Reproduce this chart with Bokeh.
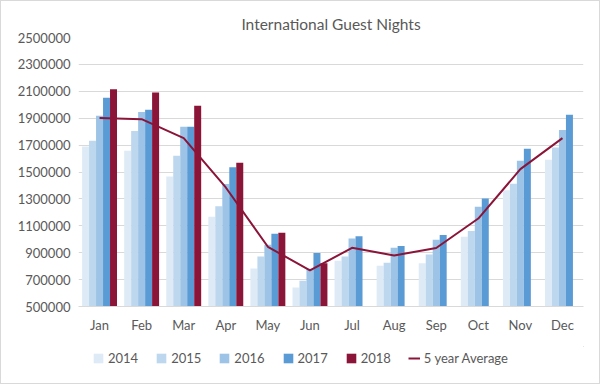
from bokeh.plotting import figure
from bokeh.layouts import column
from bokeh.models import FactorRange, Range1d, FixedTicker, Legend, LegendItem, BasicTickFormatter
from bokeh.transform import dodge
from bokeh.embed import file_html
from bokeh.resources import INLINE

months = ["Jan", "Feb", "Mar", "Apr", "May", "Jun", "Jul", "Aug", "Sep", "Oct", "Nov", "Dec"]
nan = float("nan")
y2014 = [1690000, 1658000, 1466000, 1167000, 782000, 641000, 840000, 803000, 822000, 1018000, 1365000, 1591000]
y2015 = [1732000, 1804000, 1620000, 1246000, 872000, 691000, 872000, 825000, 887000, 1061000, 1412000, 1682000]
y2016 = [1918000, 1947000, 1836000, 1410000, 959000, 780000, 1006000, 936000, 996000, 1241000, 1583000, 1813000]
y2017 = [2052000, 1962000, 1836000, 1536000, 1040000, 898000, 1023000, 949000, 1031000, 1303000, 1672000, 1925000]
y2018 = [2116000, 2091000, 1992000, 1568000, 1048000, 822000, nan, nan, nan, nan, nan, nan]
avg5 = [1902000, 1893000, 1752000, 1385000, 944000, 768000, 936000, 879000, 935000, 1154000, 1521000, 1752000]
y_ticks = [500000, 700000, 900000, 1100000, 1300000, 1500000, 1700000, 1900000, 2100000, 2300000, 2500000]

series = [("2014", y2014, "#deebf7"), ("2015", y2015, "#bdd7ee"), ("2016", y2016, "#9dc3e6"),
          ("2017", y2017, "#5b9bd5"), ("2018", y2018, "#8b1538")]
AVG_COLOR = "#8b1538"

FONT = "Lato"
GREY = "#595959"

p = figure(x_range=FactorRange(*months), y_range=Range1d(y_ticks[0], y_ticks[-1]),
           frame_width=505, frame_height=269, output_backend="svg", toolbar_location=None,
           title="International Guest Nights",
           min_border_left=77, min_border_right=16, min_border_top=36, min_border_bottom=40)

p.title.align = "center"
p.title.text_font = FONT
p.title.text_font_size = "15.5px"
p.title.text_font_style = "normal"
p.title.text_color = GREY

data = {"m": months, "avg": avg5}
for name, vals, _ in series:
    data["y" + name] = vals

bw = 0.166
offsets = [-2 * bw, -bw, 0, bw, 2 * bw]
for (name, vals, col), off in zip(series, offsets):
    p.vbar(x=dodge("m", off, range=p.x_range), top="y" + name, bottom=y_ticks[0], width=bw,
           source=data, fill_color=col, line_color=None)

p.line(x="m", y="avg", source=data, line_color=AVG_COLOR, line_width=2)

p.yaxis.ticker = FixedTicker(ticks=y_ticks)
p.yaxis.formatter = BasicTickFormatter(use_scientific=False)
p.ygrid.ticker = FixedTicker(ticks=y_ticks)
p.ygrid.grid_line_color = "#d9d9d9"
p.xgrid.grid_line_color = None
p.yaxis.axis_line_color = None
p.xaxis.axis_line_color = "#d9d9d9"
for ax in (p.xaxis, p.yaxis):
    ax.major_tick_line_color = None
    ax.minor_tick_line_color = None
    ax.major_label_text_font = FONT
    ax.major_label_text_font_size = "13px"
    ax.major_label_text_color = GREY
p.yaxis.major_label_standoff = 2
p.xaxis.major_label_standoff = 4
p.outline_line_color = None

# legend strip below the chart (swatch renderers sit outside the strip's visible range)
lg = figure(width=598, height=37, output_backend="svg", toolbar_location=None,
            x_range=Range1d(0, 1), y_range=Range1d(0, 1),
            x_axis_location=None, y_axis_location=None,
            min_border_left=0, min_border_right=0, min_border_top=0, min_border_bottom=0)
lg.grid.visible = False
lg.outline_line_color = None
items = []
for name, _, col in series:
    r = lg.vbar(x=[5], top=[5], bottom=[4], width=0.1, fill_color=col, line_color=None)
    items.append(LegendItem(label=name, renderers=[r]))
rl = lg.line(x=[5, 6], y=[5, 6], line_color=AVG_COLOR, line_width=2)
items.append(LegendItem(label="5 year Average", renderers=[rl]))
legend = Legend(items=items, orientation="horizontal", location=(14, 17),
                label_text_font=FONT, label_text_font_size="13px", label_text_color=GREY,
                glyph_width=12, glyph_height=12, label_standoff=4, spacing=17,
                border_line_color=None, background_fill_alpha=0, padding=4, margin=0)
lg.add_layout(legend)

lay = column(p, lg, spacing=0)
lay.styles = {"border": "1px solid #d9d9d9"}

open("out.html", "w").write(file_html(lay, INLINE))
